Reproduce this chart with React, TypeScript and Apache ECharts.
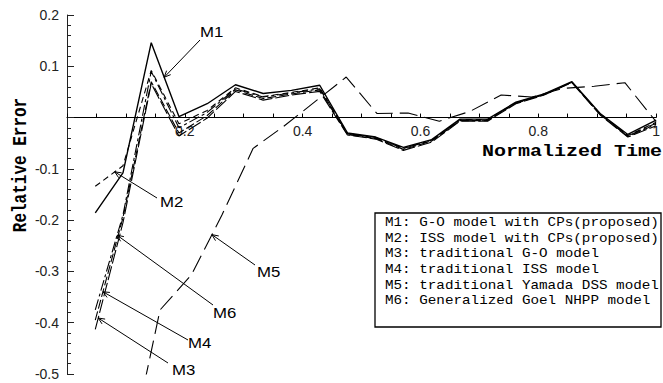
import React, { useEffect, useRef } from 'react';
import * as echarts from 'echarts';

// Normalized times of the observation points (21 test intervals)
const timesA = [
  0.048, 0.095, 0.143, 0.190, 0.238, 0.286, 0.333, 0.381, 0.429, 0.476, 0.524,
  0.571, 0.619, 0.667, 0.714, 0.762, 0.810, 0.857, 0.905, 0.952, 1.0,
];
// Yamada DSS curve is evaluated on its own (19 interval) grid
const timesB = [
  0.105, 0.158, 0.211, 0.263, 0.316, 0.368, 0.421, 0.474, 0.526, 0.579, 0.632,
  0.684, 0.737, 0.789, 0.842, 0.895, 0.947, 1.0,
];

const m1 = [-0.186, -0.108, 0.146, 0.002, 0.027, 0.064, 0.047, 0.053, 0.063, -0.030, -0.038, -0.058, -0.043, -0.003, -0.003, 0.030, 0.046, 0.070, 0.008, -0.033, -0.005];
const m2 = [-0.134, -0.094, 0.092, -0.012, 0.014, 0.058, 0.041, 0.049, 0.058, -0.032, -0.040, -0.060, -0.045, -0.004, -0.004, 0.029, 0.045, 0.069, 0.007, -0.035, -0.009];
const m3 = [-0.413, -0.205, 0.066, -0.036, -0.001, 0.051, 0.034, 0.044, 0.051, -0.034, -0.042, -0.064, -0.048, -0.007, -0.007, 0.027, 0.044, 0.068, 0.005, -0.038, -0.016];
const m4 = [-0.395, -0.195, 0.070, -0.030, 0.004, 0.054, 0.037, 0.046, 0.054, -0.033, -0.041, -0.062, -0.046, -0.006, -0.006, 0.028, 0.045, 0.069, 0.006, -0.037, -0.013];
const m5 = [-0.660, -0.375, -0.307, -0.190, -0.060, -0.017, 0.031, 0.079, 0.008, 0.009, -0.007, 0.012, 0.044, 0.040, 0.057, 0.061, 0.068, -0.008];
const m6 = [-0.375, -0.190, 0.090, -0.020, 0.010, 0.056, 0.040, 0.048, 0.056, -0.031, -0.039, -0.060, -0.044, -0.005, -0.005, 0.029, 0.045, 0.069, 0.007, -0.036, -0.011];

const legendLines = [
  'M1: G-O model with CPs(proposed)',
  'M2: ISS model with CPs(proposed)',
  'M3: traditional G-O model',
  'M4: traditional ISS model',
  'M5: traditional Yamada DSS model',
  'M6: Generalized Goel NHPP model',
];

const xLabelValues = [0.2, 0.4, 0.6, 0.8, 1];
const yMin = -0.5;
const yMax = 0.2;

type Curve = { key: string; times: number[]; vals: number[]; width: number; dash: number[] | 'solid' };

const curves: Curve[] = [
  { key: 'M1', times: timesA, vals: m1, width: 1.4, dash: 'solid' },
  { key: 'M2', times: timesA, vals: m2, width: 1.1, dash: [6, 4] },
  { key: 'M3', times: timesA, vals: m3, width: 1.1, dash: [14, 3] },
  { key: 'M4', times: timesA, vals: m4, width: 1.1, dash: [9, 3] },
  { key: 'M5', times: timesB, vals: m5, width: 1.1, dash: [18, 7] },
  { key: 'M6', times: timesA, vals: m6, width: 1.1, dash: [11, 3, 3, 3] },
];

// Callout labels: where the text sits, where its leader starts, and the time it points at
const callouts = [
  { key: 'M1', tx: 200, ty: 32, ax: 200, ay: 40, t: 0.165 },
  { key: 'M2', tx: 160, ty: 202, ax: 157, ay: 198, t: 0.081 },
  { key: 'M3', tx: 172, ty: 370, ax: 168, ay: 363, t: 0.053 },
  { key: 'M4', tx: 188, ty: 343, ax: 188, ay: 340, t: 0.061 },
  { key: 'M5', tx: 257, ty: 272, ax: 255, ay: 265, t: 0.246 },
  { key: 'M6', tx: 213, ty: 313, ax: 213, ay: 305, t: 0.085 },
];

const GRID = { left: 67, top: 15, width: 590, height: 359 };

function valueAt(times: number[], vals: number[], t: number) {
  for (let i = 0; i < times.length - 1; i++) {
    if (t >= times[i] && t <= times[i + 1]) {
      const f = (t - times[i]) / (times[i + 1] - times[i]);
      return vals[i] + f * (vals[i + 1] - vals[i]);
    }
  }
  return vals[0];
}

export default function App() {
  const ref = useRef<HTMLDivElement>(null);

  useEffect(() => {
    if (!ref.current) return;
    const chart = echarts.init(ref.current, undefined, { renderer: 'svg' });

    // the time axis is drawn across the zero line of the error axis
    const zeroFromBottom = (GRID.height * (0 - yMin)) / (yMax - yMin);

    const option: any = {
      animation: false,
      backgroundColor: '#fff',
      grid: { ...GRID, containLabel: false },
      xAxis: {
        type: 'value',
        position: 'bottom',
        offset: -zeroFromBottom,
        min: 0,
        max: 1,
        interval: 0.05,
        axisLine: { onZero: false, lineStyle: { color: '#000', width: 1 } },
        axisTick: { inside: true, length: 4, lineStyle: { color: '#000' } },
        splitLine: { show: false },
        axisLabel: {
          interval: 0,
          margin: 6,
          fontSize: 14,
          fontFamily: 'Liberation Sans',
          color: '#222',
          formatter: (v: number) => {
            const r = Math.round(v * 100) / 100;
            if (!xLabelValues.includes(r)) return '';
            return r === 1 ? '1' : r.toFixed(1);
          },
        },
      },
      yAxis: {
        type: 'value',
        min: yMin,
        max: yMax,
        interval: 0.1,
        axisLine: { show: true, onZero: false, lineStyle: { color: '#222', width: 1 } },
        axisTick: { inside: true, length: 7, lineStyle: { color: '#222' } },
        minorTick: { show: true, splitNumber: 5, length: 4, lineStyle: { color: '#222' } },
        splitLine: { show: false },
        axisLabel: {
          margin: 8,
          fontSize: 14,
          fontFamily: 'Liberation Sans',
          color: '#222',
          formatter: (v: number) => {
            const r = Math.round(v * 10) / 10;
            return Math.abs(r) < 1e-9 ? '' : String(r);
          },
        },
      },
      series: curves.map((c) => ({
        name: c.key,
        type: 'line',
        symbol: 'none',
        clip: true,
        data: c.times.map((t, i) => [t, c.vals[i]]),
        lineStyle: { color: '#000', width: c.width, type: c.dash },
      })),
    };
    chart.setOption(option);

    const graphics: any[] = [];
    graphics.push({
      type: 'text',
      x: 20,
      y: 165,
      rotation: Math.PI / 2,
      scaleY: 1.25,
      style: {
        text: 'Relative Error',
        font: 'bold 16px "Liberation Mono"',
        fill: '#000',
        textAlign: 'center',
        textVerticalAlign: 'middle',
      },
    });
    graphics.push({
      type: 'text',
      x: 482,
      y: 152,
      scaleX: 1.25,
      style: {
        text: 'Normalized Time',
        font: 'bold 16px "Liberation Mono"',
        fill: '#000',
        textAlign: 'left',
        textVerticalAlign: 'middle',
      },
    });

    // legend box
    graphics.push({
      type: 'rect',
      shape: { x: 375, y: 213, width: 286, height: 114 },
      style: { fill: '#fff', stroke: '#000', lineWidth: 1.3 },
      z: 10,
    });
    legendLines.forEach((line, i) => {
      graphics.push({
        type: 'text',
        x: 385,
        y: 223 + i * 15.6,
        scaleX: 1.19,
        z: 11,
        style: {
          text: line,
          font: '12px "Liberation Mono"',
          fill: '#000',
          textAlign: 'left',
          textVerticalAlign: 'middle',
        },
      });
    });

    // callouts with open arrowheads
    callouts.forEach((c) => {
      const curve = curves.find((k) => k.key === c.key)!;
      const v = valueAt(curve.times, curve.vals, c.t);
      const [px, py] = chart.convertToPixel({ gridIndex: 0 }, [c.t, v]) as number[];
      const dx = c.ax - px;
      const dy = c.ay - py;
      const len = Math.hypot(dx, dy) || 1;
      const ux = dx / len;
      const uy = dy / len;
      const head = 7;
      const ang = 0.42;
      const rot = (a: number) => [
        px + head * (ux * Math.cos(a) - uy * Math.sin(a)),
        py + head * (ux * Math.sin(a) + uy * Math.cos(a)),
      ];
      graphics.push({
        type: 'line',
        shape: { x1: c.ax, y1: c.ay, x2: px, y2: py },
        style: { stroke: '#000', lineWidth: 1 },
        z: 5,
      });
      graphics.push({
        type: 'polyline',
        shape: { points: [rot(ang), [px, py], rot(-ang)] },
        style: { stroke: '#000', lineWidth: 1, fill: 'none' },
        z: 5,
      });
      graphics.push({
        type: 'text',
        x: c.tx,
        y: c.ty,
        scaleX: 1.2,
        z: 5,
        style: {
          text: c.key,
          font: '14px "Liberation Sans"',
          fill: '#000',
          textAlign: 'left',
          textVerticalAlign: 'middle',
        },
      });
    });

    chart.setOption({ graphic: graphics });

    return () => chart.dispose();
  }, []);

  return (
    <div
      ref={ref}
      style={{ position: 'absolute', left: 0, top: 0, width: 663, height: 383 }}
    />
  );
}
